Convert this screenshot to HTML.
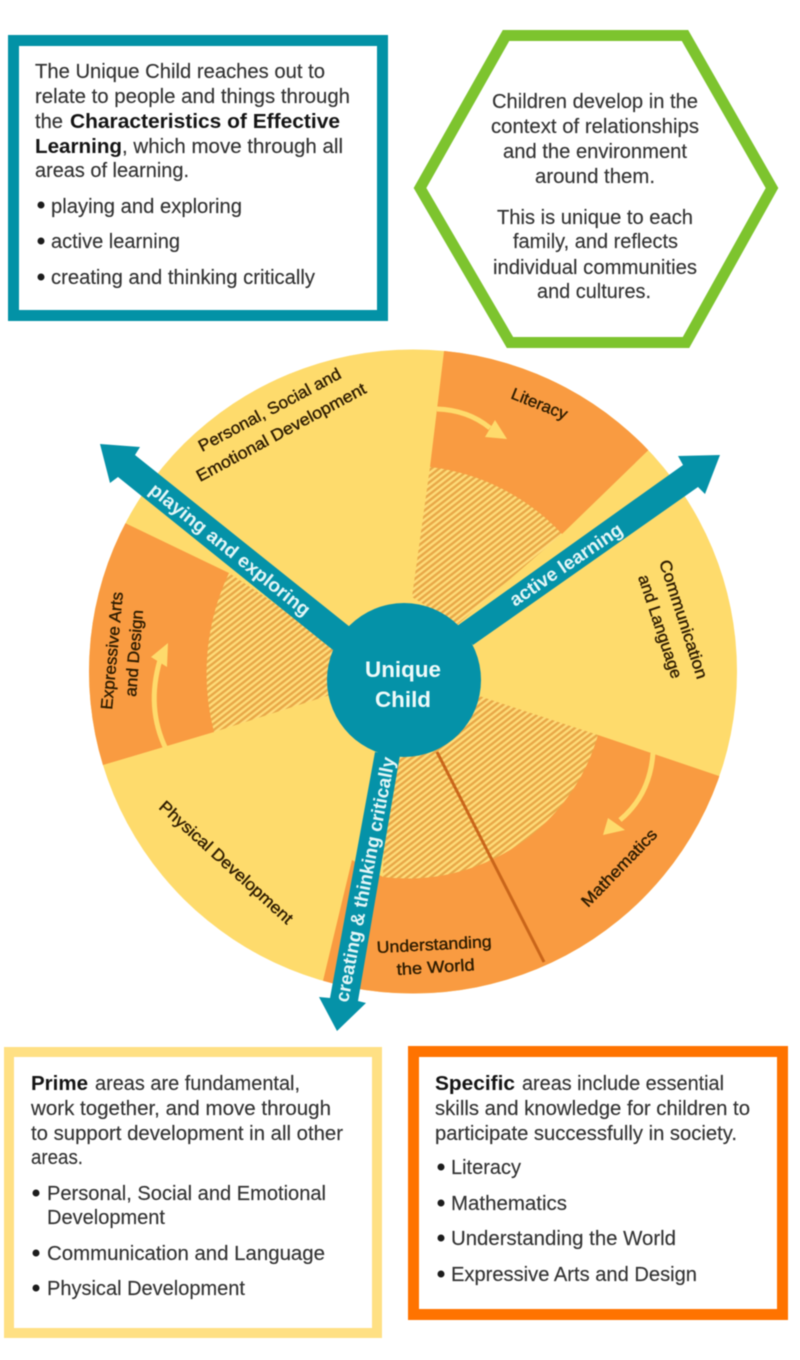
<!DOCTYPE html>
<html><head><meta charset="utf-8"><title>Unique Child diagram</title>
<style>
html,body{margin:0;padding:0;background:#fff;width:800px;height:1360px;overflow:hidden}
svg{display:block;filter:blur(0.6px)}
text{font-family:"Liberation Sans",Arial,sans-serif}
.b{font-size:20.5px;fill:#333;stroke:#333;stroke-width:.15px}
.bb{font-size:20.5px;fill:#141414;font-weight:bold}
.w{font-size:16.5px;fill:#2f1d00;stroke:#2f1d00;stroke-width:.4px}
.a{font-size:19px;fill:#e4f6f7;font-weight:bold}
.h{font-size:22px;fill:#eefafa;font-weight:bold}
</style></head><body>
<svg width="800" height="1360" viewBox="0 0 800 1360" xmlns="http://www.w3.org/2000/svg">
<defs>
<pattern id="hatch" width="10" height="4.8" patternUnits="userSpaceOnUse" patternTransform="rotate(-38)">
<rect width="10" height="4.8" fill="#fedb78"/><rect width="10" height="2.4" fill="#e8a848"/>
</pattern>
<clipPath id="disc"><ellipse cx="413" cy="671.5" rx="324" ry="322"/></clipPath>
</defs>

<!-- top-left box -->
<rect x="13.5" y="40.5" width="369" height="275" fill="#fff" stroke="#0392a6" stroke-width="11"/>
<text class="b" x="35" y="78" textLength="290" lengthAdjust="spacingAndGlyphs">The Unique Child reaches out to</text>
<text class="b" x="35" y="103" textLength="315" lengthAdjust="spacingAndGlyphs">relate to people and things through</text>
<text class="b" x="35" y="128" textLength="28" lengthAdjust="spacingAndGlyphs">the</text>
<text class="bb" x="70" y="128" textLength="270" lengthAdjust="spacingAndGlyphs">Characteristics of Effective</text>
<text class="bb" x="35" y="153" textLength="87" lengthAdjust="spacingAndGlyphs">Learning</text>
<text class="b" x="122" y="153" textLength="221" lengthAdjust="spacingAndGlyphs">, which move through all</text>
<text class="b" x="35" y="177" textLength="154" lengthAdjust="spacingAndGlyphs">areas of learning.</text>
<circle cx="41" cy="205" r="3.5" fill="#1c1c1c"/>
<text class="b" x="51" y="213" textLength="191" lengthAdjust="spacingAndGlyphs">playing and exploring</text>
<circle cx="41" cy="241" r="3.5" fill="#1c1c1c"/>
<text class="b" x="51" y="248" textLength="129" lengthAdjust="spacingAndGlyphs">active learning</text>
<circle cx="41" cy="277" r="3.5" fill="#1c1c1c"/>
<text class="b" x="51" y="284" textLength="264" lengthAdjust="spacingAndGlyphs">creating and thinking critically</text>

<!-- hexagon -->
<polygon points="506,35.5 685,35.5 772,188 686,342.5 510,342.5 420,188" fill="#fff" stroke="#7dc42e" stroke-width="11"/>
<g text-anchor="start">
<text class="b" x="492" y="108" textLength="206" lengthAdjust="spacingAndGlyphs">Children develop in the</text>
<text class="b" x="491" y="133" textLength="208" lengthAdjust="spacingAndGlyphs">context of relationships</text>
<text class="b" x="503" y="158" textLength="184" lengthAdjust="spacingAndGlyphs">and the environment</text>
<text class="b" x="535" y="183" textLength="120" lengthAdjust="spacingAndGlyphs">around them.</text>
<text class="b" x="497" y="224" textLength="196" lengthAdjust="spacingAndGlyphs">This is unique to each</text>
<text class="b" x="513" y="248" textLength="165" lengthAdjust="spacingAndGlyphs">family, and reflects</text>
<text class="b" x="493" y="274" textLength="204" lengthAdjust="spacingAndGlyphs">individual communities</text>
<text class="b" x="537" y="298" textLength="114" lengthAdjust="spacingAndGlyphs">and cultures.</text>
</g>

<!-- wheel -->
<ellipse cx="413" cy="671.5" rx="324" ry="322" fill="#fedb6c"/>
<g clip-path="url(#disc)">
<polygon points="430,467 446,335 700,335 700,400 562,534" fill="#f99b41"/>
<polygon points="125,523 229,573 214,732 103,765 40,783 40,482" fill="#f99b41"/>
<polygon points="598,735 716,775 800,804 800,1100 300,1100 322,985 352,860 383,877" fill="#f99b41"/>
</g>
<path d="M412,597 L430,467 A214,214 0 0 1 562,534 L457,625 Z" fill="url(#hatch)"/>
<path d="M345,650 L229,573 A235,235 0 0 0 214,732 L330,695 Z" fill="url(#hatch)"/>
<path d="M470,693 L598,735 A198,198 0 0 1 383,877 L385,750 Z" fill="url(#hatch)"/>
<line x1="437" y1="752" x2="544" y2="962" stroke="#c9651a" stroke-width="3"/>

<!-- small curved arrows -->
<path d="M437,409 Q468,410 490,428" fill="none" stroke="#fedb6c" stroke-width="5"/>
<polygon points="507,439 495,420 485,437" fill="#fedb6c"/>
<path d="M653,753 Q650,795 620,820" fill="none" stroke="#fedb6c" stroke-width="5"/>
<polygon points="603,835 608,818 625,830" fill="#fedb6c"/>
<path d="M166,749 Q146,708 160,660" fill="none" stroke="#fedb6c" stroke-width="5"/>
<polygon points="168,643 151,657 167,667" fill="#fedb6c"/>

<!-- big arrows -->
<polygon points="100,444 140,447 135,455 350,627 333,650 118,477 110,483" fill="#0592a8"/>
<polygon points="720,455 678,456 683,465 457,626 473,645 698,487 705,494" fill="#0592a8"/>
<polygon points="375,752 400,755 358,1001 366,1003 337,1031 319,997 330,998" fill="#0592a8"/>
<circle cx="404" cy="680" r="77" fill="#0592a8"/>

<!-- hub text -->
<text class="h" x="365" y="677" textLength="76" lengthAdjust="spacingAndGlyphs">Unique</text>
<text class="h" x="375" y="707" textLength="56" lengthAdjust="spacingAndGlyphs">Child</text>

<!-- arrow labels -->
<text class="a" transform="translate(148,492) rotate(38.7)" textLength="200" lengthAdjust="spacingAndGlyphs">playing and exploring</text>
<text class="a" transform="translate(515,607) rotate(-34.2)" textLength="132" lengthAdjust="spacingAndGlyphs">active learning</text>
<text class="a" transform="translate(348,1003) rotate(-79.1)" textLength="249" lengthAdjust="spacingAndGlyphs">creating &amp; thinking critically</text>

<!-- sector labels -->
<text class="w" transform="translate(202,452) rotate(-28)" textLength="159" lengthAdjust="spacingAndGlyphs">Personal, Social and</text>
<text class="w" transform="translate(200,482) rotate(-28.2)" textLength="190" lengthAdjust="spacingAndGlyphs">Emotional Development</text>
<text class="w" transform="translate(510,398) rotate(21.8)" textLength="59" lengthAdjust="spacingAndGlyphs">Literacy</text>
<text class="w" transform="translate(659,562) rotate(72)" textLength="124" lengthAdjust="spacingAndGlyphs">Communication</text>
<text class="w" transform="translate(638,577) rotate(71.7)" textLength="108" lengthAdjust="spacingAndGlyphs">and Language</text>
<text class="w" transform="translate(112,710) rotate(-84.7)" textLength="118" lengthAdjust="spacingAndGlyphs">Expressive Arts</text>
<text class="w" transform="translate(136,697) rotate(-85.4)" textLength="87" lengthAdjust="spacingAndGlyphs">and Design</text>
<text class="w" transform="translate(158,808) rotate(42.2)" textLength="174" lengthAdjust="spacingAndGlyphs">Physical Development</text>
<text class="w" transform="translate(588,908) rotate(-46)" textLength="101" lengthAdjust="spacingAndGlyphs">Mathematics</text>
<text class="w" transform="translate(377,953) rotate(-3)" textLength="115" lengthAdjust="spacingAndGlyphs">Understanding</text>
<text class="w" transform="translate(397,975) rotate(-3.5)" textLength="78" lengthAdjust="spacingAndGlyphs">the World</text>

<!-- prime box -->
<rect x="9" y="1052" width="368" height="281" fill="#fff" stroke="#ffe084" stroke-width="10"/>
<text class="bb" x="31" y="1090" textLength="57" lengthAdjust="spacingAndGlyphs">Prime</text>
<text class="b" x="95" y="1090" textLength="205" lengthAdjust="spacingAndGlyphs">areas are fundamental,</text>
<text class="b" x="31" y="1115" textLength="300" lengthAdjust="spacingAndGlyphs">work together, and move through</text>
<text class="b" x="31" y="1140" textLength="312" lengthAdjust="spacingAndGlyphs">to support development in all other</text>
<text class="b" x="31" y="1164" textLength="52" lengthAdjust="spacingAndGlyphs">areas.</text>
<circle cx="36" cy="1193" r="3.5" fill="#1c1c1c"/>
<text class="b" x="47" y="1200" textLength="279" lengthAdjust="spacingAndGlyphs">Personal, Social and Emotional</text>
<text class="b" x="47" y="1224" textLength="118" lengthAdjust="spacingAndGlyphs">Development</text>
<circle cx="36" cy="1253" r="3.5" fill="#1c1c1c"/>
<text class="b" x="47" y="1260" textLength="278" lengthAdjust="spacingAndGlyphs">Communication and Language</text>
<circle cx="36" cy="1288" r="3.5" fill="#1c1c1c"/>
<text class="b" x="47" y="1295" textLength="198" lengthAdjust="spacingAndGlyphs">Physical Development</text>

<!-- specific box -->
<rect x="413.5" y="1051.5" width="369" height="263" fill="#fff" stroke="#ff7300" stroke-width="11"/>
<text class="bb" x="435" y="1090" textLength="80" lengthAdjust="spacingAndGlyphs">Specific</text>
<text class="b" x="522" y="1090" textLength="202" lengthAdjust="spacingAndGlyphs">areas include essential</text>
<text class="b" x="435" y="1115" textLength="315" lengthAdjust="spacingAndGlyphs">skills and knowledge for children to</text>
<text class="b" x="435" y="1140" textLength="302" lengthAdjust="spacingAndGlyphs">participate successfully in society.</text>
<circle cx="441" cy="1167" r="3.5" fill="#1c1c1c"/>
<text class="b" x="451" y="1174" textLength="70" lengthAdjust="spacingAndGlyphs">Literacy</text>
<circle cx="441" cy="1203" r="3.5" fill="#1c1c1c"/>
<text class="b" x="451" y="1210" textLength="116" lengthAdjust="spacingAndGlyphs">Mathematics</text>
<circle cx="441" cy="1238" r="3.5" fill="#1c1c1c"/>
<text class="b" x="451" y="1245" textLength="225" lengthAdjust="spacingAndGlyphs">Understanding the World</text>
<circle cx="441" cy="1274" r="3.5" fill="#1c1c1c"/>
<text class="b" x="451" y="1281" textLength="246" lengthAdjust="spacingAndGlyphs">Expressive Arts and Design</text>
</svg>
</body></html>
